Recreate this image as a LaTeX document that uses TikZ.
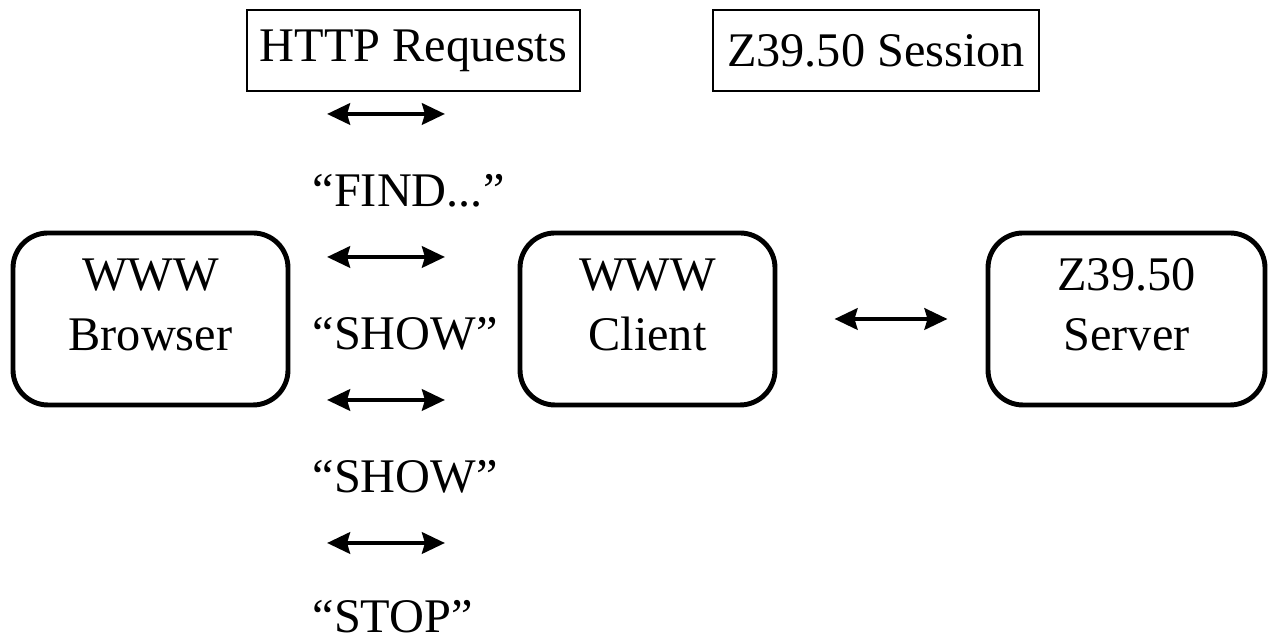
\documentclass[tikz,border=0pt]{standalone}
\usepackage{fontspec}
\setmainfont{Liberation Serif}
\usepackage{tikz}
\usetikzlibrary{positioning,arrows.meta}

\tikzset{
  sysbox/.style={draw, line width=1.4pt, rounded corners=0.35cm, minimum height=1.72cm,
                 align=center, inner sep=0pt, text depth=0.29cm},
  labbox/.style={draw, line width=0.7pt, minimum height=0.81cm, inner sep=0pt},
  biarrow/.style={{Stealth[length=6.5pt,width=6pt,inset=0.8pt]}-{Stealth[length=6.5pt,width=6pt,inset=0.8pt]},
                  line width=1.4pt}
}

\begin{document}
\begin{tikzpicture}[font=\fontsize{13.74pt}{17pt}\selectfont]
  \useasboundingbox (0,0) rectangle (12.71,6.39);

  % the three programs
  \node[sysbox, minimum width=2.75cm] (browser) at (1.505,3.20) {WWW\\Browser};
  \node[sysbox, minimum width=2.55cm] (client) at (6.475,3.20) {WWW\\Client};
  \node[sysbox, minimum width=2.77cm] (server) at (11.265,3.20) {Z39.50\\Server};

  % headings
  \node[labbox, minimum width=3.33cm] (http) at (4.135,5.885) {HTTP Requests};
  \node[labbox, minimum width=3.26cm] (session) at (8.76,5.885) {Z39.50 Session};

  % requests between browser and client
  \foreach \i/\y in {1/5.25, 2/3.82, 3/2.39, 4/0.96} {
    \coordinate (req\i l) at (3.27,\y);
    \coordinate (req\i r) at (4.45,\y);
    \draw[biarrow] (req\i l) -- (req\i r);
  }
  \node[anchor=base west, inner sep=0pt] (find) at (3.12,4.32) {“FIND...”};
  \node[anchor=base west, inner sep=0pt] (show1) at (3.12,2.89) {“SHOW”};
  \node[anchor=base west, inner sep=0pt] (show2) at (3.12,1.46) {“SHOW”};
  \node[anchor=base west, inner sep=0pt] (stop) at (3.12,0.06) {“STOP”};

  % session between client and server
  \draw[biarrow, shorten <=0.57cm, shorten >=0.38cm] (client.east) -- (server.west);
\end{tikzpicture}
\end{document}
